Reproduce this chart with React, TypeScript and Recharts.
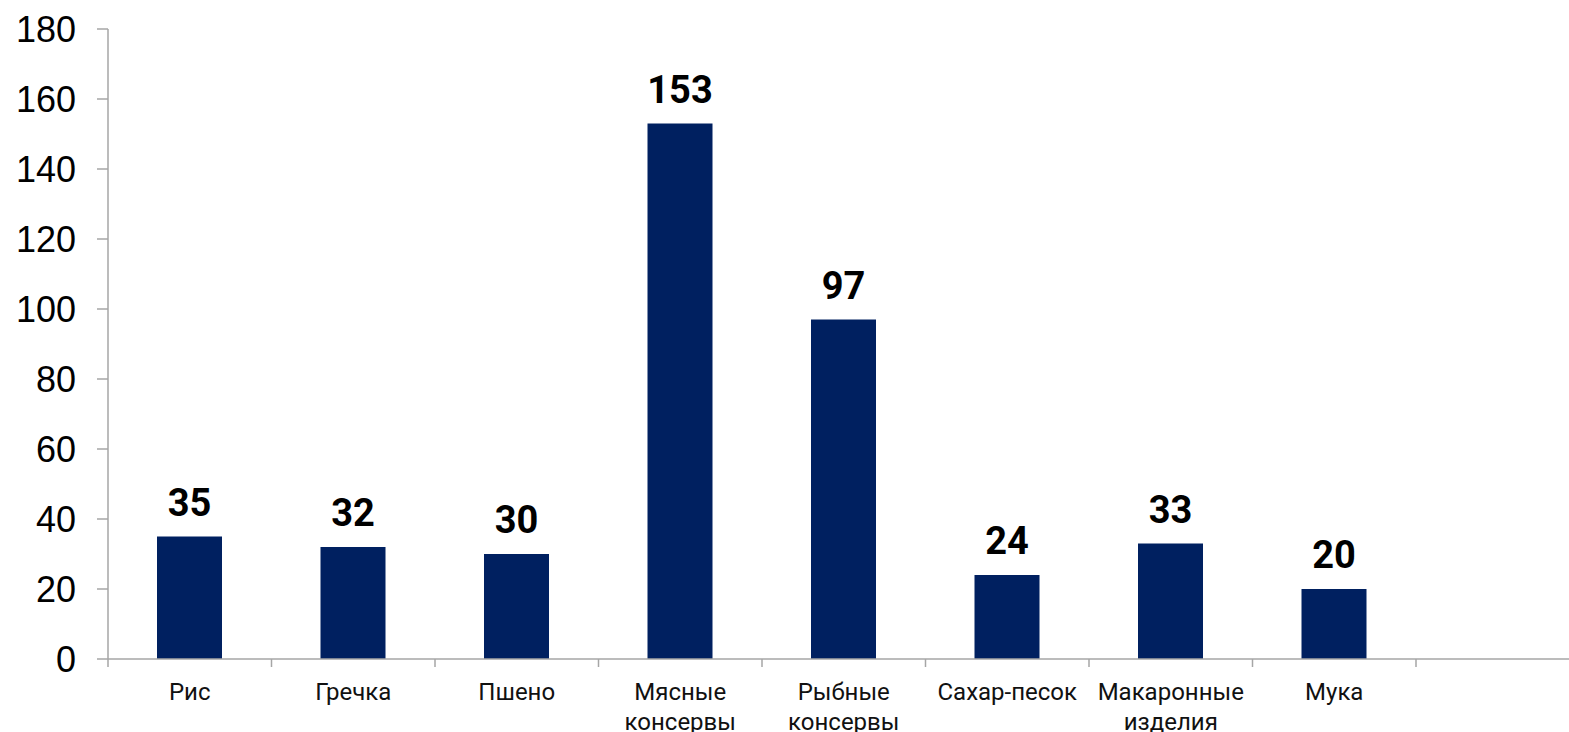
import { BarChart, Bar, XAxis, YAxis, LabelList } from 'recharts';

// Food products, units as in source
const categories = ['Рис', 'Гречка', 'Пшено', 'Мясные консервы', 'Рыбные консервы', 'Сахар-песок', 'Макаронные изделия', 'Мука'];
const labelLines = [['Рис'], ['Гречка'], ['Пшено'], ['Мясные', 'консервы'], ['Рыбные', 'консервы'], ['Сахар-песок'], ['Макаронные', 'изделия'], ['Мука']];
const values = [35, 32, 30, 153, 97, 24, 33, 20];
const yTicks = [0, 20, 40, 60, 80, 100, 120, 140, 160, 180];
// one empty slot after the last category
const slotCount = 9;

const barColor = '#002060';
const axisColor = '#a6a6a6';

const chartData = categories.map((name, i) => ({ name, pos: i + 0.5, value: values[i] }));

const boundaryTicks = Array.from({ length: slotCount + 1 }, (_, i) => i);
const centerTicks = categories.map((_, i) => i + 0.5);
const xTicks = [...boundaryTicks, ...centerTicks].sort((a, b) => a - b);

function CategoryTick(props: any) {
  const { x, y, payload } = props;
  const v = payload.value as number;
  if (Number.isInteger(v)) {
    return <line x1={x} x2={x} y1={y} y2={y + 8} stroke={axisColor} strokeWidth={1.5} />;
  }
  const lines = labelLines[Math.floor(v)] || [];
  return (
    <text x={x} y={y + 41} textAnchor="middle" fill="#111" fontSize={24} fontFamily="Roboto">
      {lines.map((l, i) => (
        <tspan key={i} x={x} dy={i === 0 ? 0 : 30}>{l}</tspan>
      ))}
    </text>
  );
}

export default function App() {
  return (
    <div style={{ position: 'fixed', left: 0, top: 0, width: 1569, height: 732, overflow: 'hidden', background: '#fff' }}>
      <BarChart
        width={1600}
        height={760}
        data={chartData}
        margin={{ top: 29, right: 20.5, left: 0, bottom: 28 }}
      >
        <XAxis
          dataKey="pos"
          type="number"
          domain={[0, slotCount]}
          ticks={xTicks}
          interval={0}
          tick={<CategoryTick />}
          tickLine={false}
          tickSize={0}
          tickMargin={0}
          axisLine={{ stroke: axisColor, strokeWidth: 1.5 }}
          height={73}
          allowDataOverflow
        />
        <YAxis
          domain={[0, 180]}
          ticks={yTicks}
          interval={0}
          width={108}
          tickSize={11}
          tickMargin={21}
          axisLine={{ stroke: axisColor, strokeWidth: 1.5 }}
          tickLine={{ stroke: axisColor, strokeWidth: 1.5 }}
          tick={{ fill: '#000', fontSize: 36, fontFamily: 'Liberation Sans, Arial, sans-serif' }}
        />
        <Bar dataKey="value" fill={barColor} barSize={65} isAnimationActive={false}>
          <LabelList
            dataKey="value"
            position="top"
            offset={21}
            fill="#000"
            fontSize={38}
            fontWeight="bold"
            fontFamily="Roboto"
          />
        </Bar>
      </BarChart>
    </div>
  );
}
